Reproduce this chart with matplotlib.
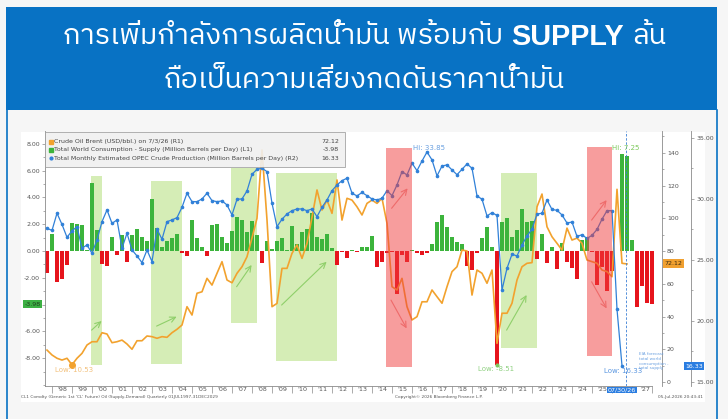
import numpy as np
import matplotlib
matplotlib.use("Agg")
import matplotlib.pyplot as plt
from matplotlib import font_manager as fm
from matplotlib.ft2font import FT2Font
from matplotlib.patches import Rectangle
from matplotlib.lines import Line2D
from matplotlib.ticker import MultipleLocator, FixedLocator, FixedFormatter, FormatStrFormatter

# quarterly data, 1997Q3 .. 2027Q4 (quarter ends)
balance = [-1.67, 1.25, -2.29, -2.10, -1.04, 2.10, 2.00, 1.94, 0.05, 5.05,
           1.57, -0.97, -1.10, 1.05, -0.30, 1.20, -0.78, 1.20, 1.64, 1.05,
           0.72, 3.88, 1.70, 0.30, 0.75, 0.95, 1.30, -0.15, -0.40, 2.30,
           0.95, 0.30, -0.40, 1.92, 2.05, 1.07, 0.57, 1.52, 2.53, 2.33,
           1.44, 2.28, 1.20, -0.90, 0.72, 0.15, 0.76, 1.01, 0.05, 1.90,
           0.50, 1.44, 1.65, 2.81, 1.07, 0.87, 1.24, 0.26, -1.05, -0.05,
           -0.55, 0.10, -0.05, 0.28, 0.33, 1.13, -1.17, -0.85, -0.15, -0.05,
           -3.18, -0.30, -0.80, 0.05, -0.15, -0.30, -0.15, 0.51, 2.19, 2.69,
           1.80, 1.07, 0.68, 0.53, -1.10, -1.40, -0.15, 0.95, 1.82, 0.31,
           -8.51, 2.19, 2.44, 1.04, 1.57, 3.15, 2.16, 2.24, -0.60, 1.27,
           -0.92, 0.32, -1.32, 0.62, -0.78, -1.25, -2.05, 0.81, 1.03, -0.10,
           -2.55, -1.20, -3.00, -1.50, 0.00, 7.25, 7.09, 0.82, -4.15, -2.58,
           -3.86, -3.98]

brent = [19.5, 16.5, 14.5, 13.4, 14.5, 10.53, 14.5, 17.5, 22.6, 24.6,
         24.6, 30.1, 29.3, 24.0, 24.6, 25.6, 23.2, 20.0, 25.2, 25.2,
         28.1, 27.7, 26.7, 27.7, 27.3, 30.1, 32.2, 34.8, 46.0, 40.9,
         54.2, 55.1, 63.3, 59.2, 66.4, 73.5, 62.3, 60.6, 66.4, 70.4,
         76.5, 88.0, 100.0, 141.7, 99.0, 46.0, 48.0, 69.4, 69.4, 78.6,
         83.7, 75.5, 84.7, 100.6, 117.3, 105.0, 111.1, 103.0, 123.4, 98.9,
         112.2, 111.1, 107.0, 102.0, 109.1, 111.1, 109.1, 112.2, 96.9, 58.2,
         56.2, 63.3, 46.0, 37.9, 39.9, 49.0, 49.0, 56.2, 52.1, 48.1,
         58.2, 67.4, 70.4, 80.6, 80.0, 53.1, 68.4, 66.4, 60.3, 68.4,
         23.6, 42.0, 42.0, 48.1, 62.3, 70.4, 72.5, 72.9, 107.0, 114.8,
         94.8, 88.7, 84.7, 80.6, 94.0, 86.7, 87.9, 84.7, 74.5, 73.5,
         72.5, 68.4, 67.4, 64.3, 117.7, 72.5, 72.12]

opec = [27.60, 27.42, 28.83, 27.91, 26.86, 27.38, 27.73, 25.96, 26.23, 25.55,
        26.64, 28.14, 29.10, 28.00, 28.28, 25.96, 27.19, 25.82, 25.33, 24.78,
        25.82, 24.86, 27.52, 26.70, 28.14, 28.28, 28.47, 29.32, 30.47, 29.78,
        29.78, 30.00, 30.47, 29.86, 29.78, 29.84, 29.51, 28.69, 29.98, 30.00,
        30.66, 32.02, 32.43, 32.52, 32.24, 29.65, 27.73, 28.34, 28.77, 29.04,
        29.18, 29.18, 29.04, 29.18, 28.55, 29.32, 29.92, 30.68, 31.15, 31.50,
        31.70, 30.47, 30.25, 30.53, 30.27, 30.00, 29.92, 30.06, 30.68, 30.27,
        31.15, 32.24, 31.97, 32.93, 32.32, 33.11, 33.85, 33.20, 31.89, 32.70,
        32.79, 32.38, 31.99, 32.43, 32.87, 32.52, 30.25, 29.98, 28.61, 28.88,
        28.65, 22.54, 24.32, 25.47, 25.33, 26.23, 26.97, 27.52, 28.77, 28.83,
        29.92, 29.14, 29.07, 28.69, 28.03, 28.11, 26.93, 27.07, 26.76, 27.02,
        27.50, 28.34, 29.04, 29.04, 20.96, 16.33]

year_labels = ["'98", "'99", "'00", "'01", "'02", "'03", "'04", "'05", "'06", "'07",
               "'08", "'09", "'10", "'11", "'12", "'13", "'14", "'15", "'16", "'17",
               "'18", "'19", "'20", "'21", "'22", "'23", "'24", "'25", "", "'27"]

# shaded periods (start, end, bottom, top) in years / L1 units
green_boxes = [(1999.93, 2000.48, -8.5, 5.6), (2002.95, 2004.48, -8.4, 5.25),
               (2006.95, 2008.24, -5.35, 6.2), (2009.2, 2012.23, -8.2, 5.85),
               (2020.45, 2022.27, -7.2, 5.85)]
red_boxes = [(2014.7, 2015.98, -8.63, 7.66), (2024.73, 2025.98, -7.84, 7.74)]
green_arrows = [((1999.98, -5.9), (2000.48, -5.22)), ((2003.23, -5.6), (2004.23, -4.9)),
                ((2007.23, -2.66), (2007.98, -1.04)), ((2009.48, -4.03), (2011.73, -0.8)),
                ((2020.73, -5.9), (2021.73, -3.28))]
red_arrows = [((2014.98, 3.19), (2015.78, 4.68)), ((2014.95, -3.66), (2015.73, -5.77)),
              ((2024.98, 2.31), (2025.73, 3.8)), ((2024.98, -2.29), (2025.73, -4.28))]

W, H = 728, 419
GREEN, RED = '#3cb43c', '#e6141c'
ORANGE, BLUE = '#f2a22e', '#3181d8'
HEAD = '#0872c4'


def fx(x):
    return x / W


def fy(y):
    return 1 - y / H


def thai_font():
    names = []
    for f in fm.fontManager.ttflist:
        try:
            if 0x0E01 in FT2Font(f.fname).get_charmap():
                names.append(f.name)
        except Exception:
            continue
    names = sorted(set(names), key=lambda n: ('Thai' not in n, 'Looped' in n, n))
    return names[0] if names else 'DejaVu Sans'


TH = thai_font()

fig = plt.figure(figsize=(W / 100, H / 100), dpi=100, facecolor='#f6f6f6')

# header + frame + white chart panel
fig.add_artist(Rectangle((fx(6), fy(110)), fx(717) - fx(6), fy(7) - fy(110),
                         transform=fig.transFigure, fc=HEAD, ec='none', zorder=-5))
for xx in (6.7, 717):
    fig.add_artist(Line2D([fx(xx), fx(xx)], [fy(110), 0], color=HEAD, lw=1.2, zorder=-5))
fig.add_artist(Rectangle((fx(20.7), fy(402)), fx(705) - fx(20.7), fy(131.7) - fy(402),
                         transform=fig.transFigure, fc='white', ec='none', zorder=-4))


def title_line(parts, y, x0, x1):
    size = 20
    txt = [fig.text(0, fy(y), s, family=[fam, 'DejaVu Sans'], fontweight=wt, fontsize=size,
                    color='white', ha='left', va='center') for s, fam, wt in parts]
    r = fig.canvas.get_renderer()
    gap = lambda sz: 0.28 * sz * 100 / 72
    ws = [t.get_window_extent(r).width for t in txt]
    size = size * (x1 - x0) / (sum(ws) + gap(size) * (len(txt) - 1))
    for t in txt:
        t.set_fontsize(size)
    ws = [t.get_window_extent(r).width for t in txt]
    x = (x0 + x1) / 2 - (sum(ws) + gap(size) * (len(txt) - 1)) / 2
    for t, w in zip(txt, ws):
        t.set_x(fx(x))
        x += w + gap(size)


title_line([("การเพิ่มกำลังการผลิตน้ำมัน พร้อมกับ", TH, 'normal'),
            ("SUPPLY", 'Liberation Sans', 'bold'), ("ล้น", TH, 'normal')], 37, 62, 667)
title_line([("ถือเป็นความเสี่ยงกดดันราคาน้ำมัน", TH, 'normal')], 80, 163, 565)

# chart axes
rect = [fx(45), fy(386), fx(662) - fx(45), fy(131) - fy(386)]
ax = fig.add_axes(rect)
ax2 = ax.twinx()
ax3 = ax.twinx()
for a in (ax, ax2, ax3):
    a.patch.set_visible(False)
    for s in a.spines.values():
        s.set_visible(False)
        s.set_color('#8a8a8a')
        s.set_linewidth(0.6)

t = 1997.75 + 0.25 * np.arange(len(balance))

for x0, x1, y0, y1 in green_boxes:
    ax.add_patch(Rectangle((x0, y0), x1 - x0, y1 - y0, fc='#d5edb6', ec='none', zorder=1))
ax.bar(t, balance, width=0.17, color=[GREEN if v >= 0 else RED for v in balance], zorder=2)
ax.plot(t[90], -8.51, 'o', color='#7cc860', ms=2, zorder=3)

ax2.plot(t[:len(brent)], brent, color=ORANGE, lw=1.2, zorder=3)
ax2.plot(t[5], 10.53, 'o', color=ORANGE, ms=4, zorder=4)
ax3.plot(t[:len(opec)], opec, color=BLUE, lw=0.9, marker='o', ms=1.6, zorder=3)

# axes styling
ax.spines['left'].set_visible(True)
ax.spines['bottom'].set_visible(True)
ax.spines['bottom'].set_bounds(1997.65, 2028.0)
ax.yaxis.set_major_locator(FixedLocator(np.arange(-8, 9, 2)))
ax.yaxis.set_minor_locator(FixedLocator(np.arange(-10, 9, 1)))
ax.yaxis.set_major_formatter(FormatStrFormatter('%.2f'))
ax.xaxis.set_major_locator(FixedLocator(np.arange(1998, 2029)))
ax.xaxis.set_major_formatter(FixedFormatter([''] * 31))
label_pos = np.arange(1998, 2028) + 0.5
label_pos[-1] = 2027.65
ax.xaxis.set_minor_locator(FixedLocator(label_pos))
ax.xaxis.set_minor_formatter(FixedFormatter(year_labels))
ax.tick_params(axis='x', which='major', length=5, width=0.5, color='#8a8a8a')
ax.tick_params(axis='x', which='minor', length=0, labelsize=4.6, labelcolor='#555', pad=1)
ax.tick_params(axis='y', which='both', labelsize=4.5, labelcolor='#555', color='#8a8a8a',
               width=0.5, pad=1)
ax.tick_params(axis='y', which='major', length=2.5)
ax.tick_params(axis='y', which='minor', length=1.5)
ax.set_xlim(1997.65, 2028.5)
ax.set_ylim(-10.07, 8.96)

ax2.spines['right'].set_visible(True)
ax2.yaxis.set_major_locator(FixedLocator(np.arange(0, 141, 20)))
ax2.yaxis.set_minor_locator(MultipleLocator(10))
ax2.yaxis.set_major_formatter(FormatStrFormatter('%d'))
ax3.spines['right'].set_visible(True)
ax3.spines['right'].set_position(('outward', 21))
ax3.yaxis.set_major_locator(MultipleLocator(5))
ax3.yaxis.set_minor_locator(MultipleLocator(2.5))
ax3.yaxis.set_major_formatter(FormatStrFormatter('%.2f'))
for a in (ax2, ax3):
    a.tick_params(axis='y', which='both', labelsize=4.5, labelcolor='#555', color='#8a8a8a',
                  width=0.5, pad=1)
    a.tick_params(axis='y', which='major', length=2.5)
    a.tick_params(axis='y', which='minor', length=1.5)
ax2.set_ylim(-2.44, 153.3)
ax3.set_ylim(14.67, 35.57)

# overlay: red periods, arrows, forecast marker
axo = fig.add_axes(rect)
axo.set_xlim(ax.get_xlim())
axo.set_ylim(ax.get_ylim())
axo.axis('off')
for x0, x1, y0, y1 in red_boxes:
    axo.add_patch(Rectangle((x0, y0), x1 - x0, y1 - y0, fc='#f03c3c', ec='none', alpha=0.5))
for p0, p1 in green_arrows:
    axo.annotate('', xy=p1, xytext=p0,
                 arrowprops=dict(arrowstyle='->', color='#8fcf6a', lw=0.8, shrinkA=0, shrinkB=0))
for p0, p1 in red_arrows:
    axo.annotate('', xy=p1, xytext=p0,
                 arrowprops=dict(arrowstyle='->', color='#ee6a6a', lw=0.8, shrinkA=0, shrinkB=0))
axo.axvline(2026.7, color='#3a7fd5', lw=0.6, ls=(0, (3, 2)))

# annotations
fig.text(fx(55), fy(370), "Low: 10.53", fontsize=5, color='#f2c07c', va='center')
fig.text(fx(413), fy(148), "Hi: 33.85", fontsize=5, color='#6aa0e0', va='center')
fig.text(fx(612), fy(148), "Hi: 7.25", fontsize=5, color='#7cc85a', va='center')
fig.text(fx(478), fy(369), "Low: -8.51", fontsize=5, color='#8fd080', va='center')
fig.text(fx(604), fy(371), "Low: 16.33", fontsize=5, color='#5a96e0', va='center')
fig.text(fx(639), fy(352), "EIA forecast\ntotal world\nconsumption -\ntotal supply", fontsize=3,
         color='#6aa0e0', va='top', linespacing=1.25)

# legend
fig.add_artist(Rectangle((fx(45), fy(167)), fx(345) - fx(45), fy(132) - fy(167),
                         transform=fig.transFigure, fc='#f0f0f0', ec='#9a9a9a', lw=0.6, alpha=0.9))
legend_rows = [("Crude Oil Brent (USD/bbl.) on 7/3/26 (R1)", "72.12", ORANGE, 's'),
               ("Total World Consumption - Supply (Million Barrels per Day) (L1)", "-3.98", GREEN, 's'),
               ("Total Monthly Estimated OPEC Crude Production (Million Barrels per Day) (R2)", "16.33", BLUE, 'o')]
for (lab, val, col, mk), yy in zip(legend_rows, (141.7, 149.7, 158.3)):
    fig.add_artist(Line2D([fx(50.7)], [fy(yy)], marker=mk, ms=3 if mk == 's' else 2, color=col, lw=0))
    fig.text(fx(54.5), fy(yy), lab, fontsize=4.5, color='#444', va='center')
    fig.text(fx(339), fy(yy), val, fontsize=4.5, color='#444', va='center', ha='right')

# value tags
fig.text(fx(32.5), fy(304), "-3.98", fontsize=4.5, color='#1d3d1d', ha='center', va='center',
         bbox=dict(boxstyle='square,pad=0.25', fc='#3cb043', ec='none'))
fig.text(fx(673), fy(263.5), "72.12", fontsize=4.5, color='#3a2a10', ha='center', va='center',
         bbox=dict(boxstyle='square,pad=0.25', fc='#f0a030', ec='none'))
fig.text(fx(694), fy(366), "16.33", fontsize=4.5, color='white', ha='center', va='center',
         bbox=dict(boxstyle='square,pad=0.25', fc='#2a7de1', ec='none'))
fig.text(fx(622), fy(390), "07/30/26", fontsize=4.6, color='white', ha='center', va='center',
         bbox=dict(boxstyle='square,pad=0.15', fc='#2a7de1', ec='none'))

# footnotes
fig.text(fx(21), fy(397), "CL1 Comdty (Generic 1st 'CL' Future) Oil (Supply-Demand) Quarterly 01JUL1997-31DEC2029",
         fontsize=3.1, color='#555', va='center')
fig.text(fx(439), fy(397), "Copyright\u00a9 2026 Bloomberg Finance L.P.", fontsize=3.1, color='#555',
         va='center', ha='center')
fig.text(fx(703), fy(397), "05-Jul-2026 20:43:41", fontsize=3.1, color='#555', va='center', ha='right')

fig.savefig("out.png", dpi=100, facecolor=fig.get_facecolor())
